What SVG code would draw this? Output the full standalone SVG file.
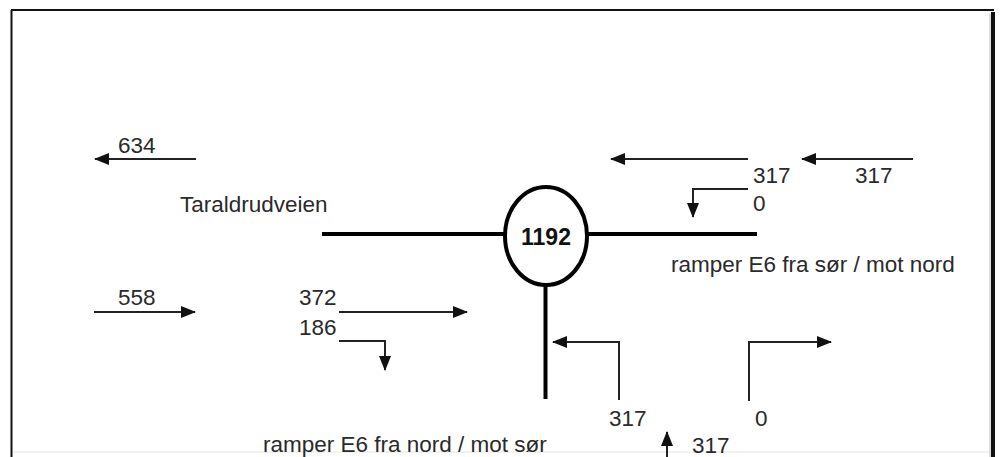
<svg xmlns="http://www.w3.org/2000/svg" width="1003" height="457" viewBox="0 0 1003 457">
<defs>
<style>
text{font-family:"Liberation Sans",Arial,sans-serif;font-size:22.5px;fill:#2a2a2a}
.b{font-weight:bold;font-size:23px;fill:#111}
.road{stroke:#000;stroke-width:4;fill:none}
.ar{stroke:#222;stroke-width:2;fill:none;marker-end:url(#ah)}
</style>
<marker id="ah" markerUnits="userSpaceOnUse" markerWidth="15" markerHeight="12" refX="14" refY="6" orient="auto">
<path d="M0,0 L15,6 L0,12 Z" fill="#111"/>
</marker>
</defs>
<rect width="1003" height="457" fill="#fff"/>
<g id="frame">
<line x1="11" y1="10" x2="994" y2="10" stroke="#111" stroke-width="2"/>
<line x1="11.5" y1="10" x2="11.5" y2="457" stroke="#111" stroke-width="2"/>
<line x1="993" y1="12" x2="993" y2="457" stroke="#111" stroke-width="4"/>
<line x1="990" y1="14" x2="990" y2="457" stroke="#bbb" stroke-width="1"/>
<line x1="13" y1="452" x2="989" y2="452" stroke="#e6e6e6" stroke-width="1"/>
</g>
<g id="roads">
<line class="road" x1="322" y1="234" x2="505" y2="234"/>
<line class="road" x1="587" y1="234" x2="757" y2="234"/>
<line class="road" x1="545.5" y1="285" x2="545.5" y2="399"/>
</g>
<g id="junction">
<ellipse cx="546" cy="236" rx="41" ry="49" fill="#fff" stroke="#000" stroke-width="4"/>
<text class="b" x="546" y="245" text-anchor="middle">1192</text>
</g>
<g id="connectors">
<path class="ar" d="M196,159 H95"/>
<path class="ar" d="M748,159 H611"/>
<path class="ar" d="M913,159 H802"/>
<path class="ar" d="M748,189 H693 V217"/>
<path class="ar" d="M94,312 H195"/>
<path class="ar" d="M339,312 H467"/>
<path class="ar" d="M339,341 H385 V370"/>
<path class="ar" d="M619,400 V342 H553"/>
<path class="ar" d="M749,401 V342 H831"/>
<path class="ar" d="M667,457 V432"/>
</g>
<g id="labels">
<text x="118" y="153">634</text>
<text x="180" y="212">Taraldrudveien</text>
<text x="753" y="183">317</text>
<text x="855" y="183">317</text>
<text x="753" y="211">0</text>
<text x="671" y="272">ramper E6 fra sør / mot nord</text>
<text x="118" y="305">558</text>
<text x="299" y="305">372</text>
<text x="299" y="335">186</text>
<text x="609" y="426">317</text>
<text x="755" y="426">0</text>
<text x="692" y="453">317</text>
<text x="263" y="452">ramper E6 fra nord / mot sør</text>
</g>
</svg>
